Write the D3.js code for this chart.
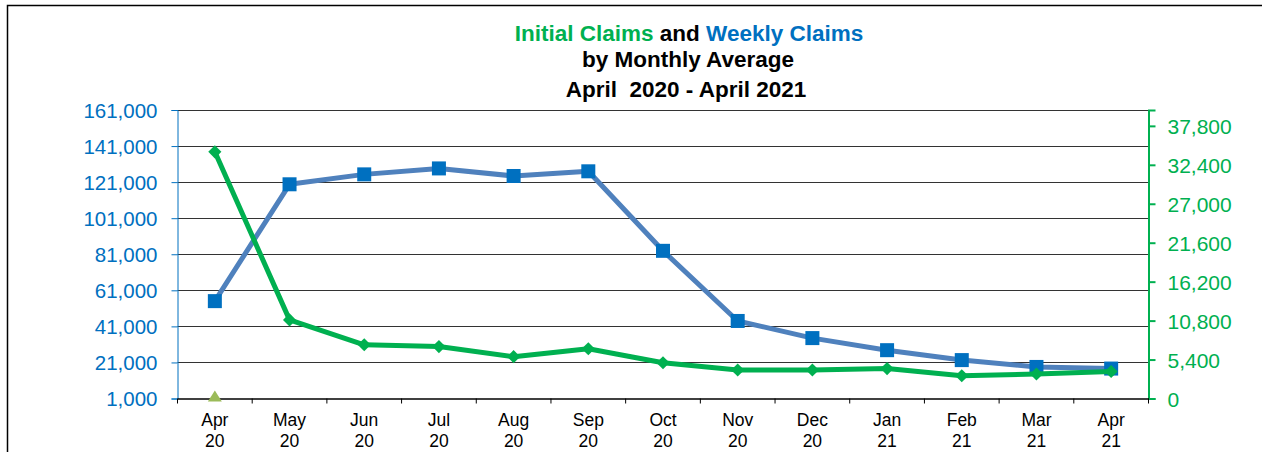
<!DOCTYPE html>
<html>
<head>
<meta charset="utf-8">
<script src="https://cdn.jsdelivr.net/npm/d3@7"></script>
<style>
  body { margin: 0; background: #fff; }
  svg text { font-family: "Liberation Sans", Arial, sans-serif; }
</style>
</head>
<body>
<svg id="chart" width="1274" height="452"></svg>
<script>
// months along the bottom (two line labels)
const months = ["Apr", "May", "Jun", "Jul", "Aug", "Sep", "Oct", "Nov", "Dec", "Jan", "Feb", "Mar", "Apr"];
const years = ["20", "20", "20", "20", "20", "20", "20", "20", "20", "21", "21", "21", "21"];

// weekly claims (left axis)
const weeklyClaims = [55000, 119800, 125300, 128600, 124400, 127000, 82900, 44000, 34500, 27800, 22300, 18500, 17600];
// initial claims (right axis)
const initialClaims = [34200, 10900, 7450, 7200, 5800, 6900, 4950, 3950, 3950, 4150, 3150, 3400, 3750];
// third series, only one point shows
const otherSeries = [0, null, null, null, null, null, null, null, null, null, null, null, null];

const leftTicks = [1000, 21000, 41000, 61000, 81000, 101000, 121000, 141000, 161000];
const rightTicks = [0, 5400, 10800, 16200, 21600, 27000, 32400, 37800];

const svg = d3.select("#chart");
const blue = "#0070C0", green = "#00B050";

const plotLeft = 177.5, plotRight = 1148.5, plotTop = 110, plotBottom = 398.5;
const keys = months.map((m, i) => i);

const x = d3.scaleBand().domain(keys).range([plotLeft, plotRight]).padding(0);
const yL = d3.scaleLinear().domain([1000, 161000]).range([plotBottom, plotTop]);
const yR = d3.scaleLinear().domain([0, 40000]).range([plotBottom, plotTop]);

// outer frame (left and top edges)
svg.append("path")
  .attr("d", "M7.5,452 V5.5 H1262")
  .attr("fill", "none")
  .attr("stroke", "#000")
  .attr("stroke-width", 1.5);

// title
const title = svg.append("text")
  .attr("x", 689)
  .attr("y", 40.5)
  .attr("text-anchor", "middle")
  .style("font-weight", "bold")
  .style("font-size", "22.5px");
title.append("tspan").attr("fill", green).text("Initial Claims");
title.append("tspan").attr("fill", "#000").text(" and ");
title.append("tspan").attr("fill", blue).text("Weekly Claims");

svg.append("text")
  .attr("x", 688).attr("y", 67)
  .attr("text-anchor", "middle")
  .style("font-weight", "bold").style("font-size", "22.5px")
  .text("by Monthly Average");

svg.append("text")
  .attr("x", 686).attr("y", 96.5)
  .attr("text-anchor", "middle")
  .style("font-weight", "bold").style("font-size", "22.5px")
  .style("white-space", "pre")
  .text("April  2020 - April 2021");

// gridlines
svg.append("g")
  .selectAll("line")
  .data(leftTicks.slice(1))
  .join("line")
  .attr("x1", plotLeft).attr("x2", plotRight)
  .attr("y1", d => Math.round(yL(d)) + 0.5)
  .attr("y2", d => Math.round(yL(d)) + 0.5)
  .attr("stroke", "#333")
  .attr("stroke-width", 1.2);

// left axis
const gL = svg.append("g")
  .attr("transform", `translate(${plotLeft},0)`)
  .call(d3.axisLeft(yL).tickValues(leftTicks).tickSize(6).tickPadding(14).tickFormat(d3.format(",")));
gL.select(".domain").attr("stroke", blue).attr("stroke-width", 1);
gL.selectAll(".tick line").attr("stroke", blue);
gL.selectAll(".tick text")
  .attr("fill", blue)
  .style("font-size", "20.5px")
  .attr("dy", "0.36em");

// right axis
const gR = svg.append("g")
  .attr("transform", `translate(${plotRight},0)`)
  .call(d3.axisRight(yR).tickValues(rightTicks).tickSize(7).tickPadding(12).tickFormat(d3.format(",")));
gR.select(".domain").attr("stroke", green).attr("stroke-width", 2);
gR.selectAll(".tick line").attr("stroke", green).attr("stroke-width", 2);
gR.selectAll(".tick text")
  .attr("fill", green)
  .style("font-size", "21px")
  .attr("dy", "0.36em");

// x axis
const gX = svg.append("g")
  .attr("transform", `translate(0,${plotBottom})`)
  .call(d3.axisBottom(x).tickSize(0).tickFormat(""));
gX.select(".domain").attr("stroke", "#000").attr("stroke-width", 1.5);
gX.selectAll("line.sep")
  .data(d3.range(months.length + 1))
  .join("line")
  .attr("class", "sep")
  .attr("x1", i => plotLeft + i * x.bandwidth())
  .attr("x2", i => plotLeft + i * x.bandwidth())
  .attr("y1", 0).attr("y2", 5)
  .attr("stroke", "#000");

const labels = svg.append("g")
  .selectAll("text")
  .data(keys)
  .join("text")
  .attr("x", i => x(i) + x.bandwidth() / 2)
  .attr("text-anchor", "middle")
  .style("font-size", "17.5px")
  .attr("fill", "#000");
labels.append("tspan").attr("x", i => x(i) + x.bandwidth() / 2).attr("y", 426).text(i => months[i]);
labels.append("tspan").attr("x", i => x(i) + x.bandwidth() / 2).attr("y", 447).text(i => years[i]);

const cx = i => x(i) + x.bandwidth() / 2;

// weekly claims line + squares
svg.append("path")
  .datum(weeklyClaims)
  .attr("fill", "none")
  .attr("stroke", "#4F81BD")
  .attr("stroke-width", 5)
  .attr("stroke-linejoin", "round")
  .attr("d", d3.line().x((d, i) => cx(i)).y(d => yL(d)));

svg.append("g")
  .selectAll("rect")
  .data(weeklyClaims)
  .join("rect")
  .attr("x", (d, i) => cx(i) - 7)
  .attr("y", d => yL(d) - 7)
  .attr("width", 14).attr("height", 14)
  .attr("fill", blue);

// initial claims line + diamonds
svg.append("path")
  .datum(initialClaims)
  .attr("fill", "none")
  .attr("stroke", green)
  .attr("stroke-width", 5)
  .attr("stroke-linejoin", "round")
  .attr("d", d3.line().x((d, i) => cx(i)).y(d => yR(d)));

svg.append("g")
  .selectAll("path")
  .data(initialClaims)
  .join("path")
  .attr("transform", (d, i) => `translate(${cx(i)},${yR(d)})`)
  .attr("d", d3.symbol(d3.symbolDiamond2, 110))
  .attr("fill", green);

// third series (triangle)
svg.append("g")
  .selectAll("path")
  .data(otherSeries.map((v, i) => ({ v, i })).filter(d => d.v !== null))
  .join("path")
  .attr("d", "M0,-6 L7,5 L-7,5 Z")
  .attr("transform", d => `translate(${cx(d.i)},${yR(d.v) - 2})`)
  .attr("fill", "#9BBB59");
</script>
</body>
</html>
